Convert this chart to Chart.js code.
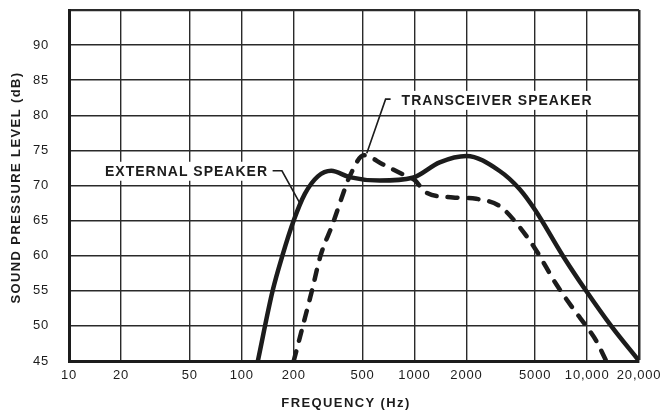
<!DOCTYPE html>
<html lang="en">
<head>
  <meta charset="UTF-8">
  <title>Speaker Frequency Response</title>
  <script src="https://cdn.jsdelivr.net/npm/chart.js"></script>
  <style>
    body {
      margin: 0;
      background-color: #ffffff;
    }
    canvas {
      display: block;
    }
  </style>
</head>
<body>

  <canvas id="responseChart" width="666" height="411"></canvas>

  <script>
    // tick positions and labels
    const xTicks = [10, 20, 50, 100, 200, 500, 1000, 2000, 5000, 10000, 20000];
    const xTickLabels = ['10', '20', '50', '100', '200', '500', '1000', '2000', '5000', '10,000', '20,000'];
    const yMin = 45;
    const yMax = 95;
    const yStep = 5;

    // external speaker (solid)
    const extFreq  = [124, 151, 172, 200, 232, 276, 330, 420, 630, 975, 1400, 2000, 3100, 4060, 5000, 7230, 9860, 13770, 20000];
    const extLevel = [45, 55, 60, 65, 68.8, 71.3, 72.1, 71.2, 70.7, 71.1, 73.3, 74.2, 72.1, 69.5, 66.5, 60, 55, 50, 45];

    // transceiver speaker (dashed)
    const trxFreq  = [200, 226, 255, 286, 336, 386, 420, 510, 658, 855, 1000, 1170, 1670, 2280, 3100, 3880, 5000, 6600, 8450, 10000, 11270, 12900];
    const trxLevel = [45, 50, 55, 60, 64.5, 68.8, 71.2, 74.3, 73, 71.6, 70.8, 69, 68.3, 68.1, 67.1, 64.7, 61, 56, 52.2, 49.8, 47.9, 45];

    // callouts: text anchor and leader line, in data units (Hz, dB)
    const callouts = [
      { text: 'EXTERNAL SPEAKER', align: 'right', at: [142, 72.1],
        leader: [[151, 72.1], [171, 72.1], [217, 67.5]] },
      { text: 'TRANSCEIVER SPEAKER', align: 'left', at: [843, 82.2],
        leader: [[728, 82.3], [681, 82.3], [530, 74.6]] }
    ];

    const ink = '#1c1c1c';
    const fontFamily = '"Liberation Sans", Arial, Helvetica, sans-serif';

    const toPoints = (fs, ls) => fs.map((f, i) => ({ x: f, y: ls[i] }));

    const calloutPlugin = {
      id: 'callouts',
      beforeDraw(chart) {
        chart.ctx.letterSpacing = '0.8px';
      },
      afterDatasetsDraw(chart) {
        const { ctx, chartArea } = chart;
        const x = chart.scales.x;
        const y = chart.scales.y;
        ctx.save();
        ctx.font = 'bold 14px ' + fontFamily;
        ctx.letterSpacing = '1px';
        ctx.textBaseline = 'middle';
        ctx.textAlign = 'left';
        callouts.forEach(c => {
          const px = x.getPixelForValue(c.at[0]);
          const py = y.getPixelForValue(c.at[1]);
          const w = ctx.measureText(c.text).width;
          const left = c.align === 'right' ? px - w : px;
          ctx.fillStyle = '#ffffff';
          ctx.fillRect(left - 3, py - 9, w + 6, 19);
          ctx.fillStyle = ink;
          ctx.fillText(c.text, left, py + 1);

          ctx.strokeStyle = ink;
          ctx.lineWidth = 1.6;
          ctx.beginPath();
          c.leader.forEach(([f, db], i) => {
            const lx = x.getPixelForValue(f);
            const ly = y.getPixelForValue(db);
            if (i === 0) ctx.moveTo(lx, ly); else ctx.lineTo(lx, ly);
          });
          ctx.stroke();
        });

        // axis titles
        ctx.font = 'bold 13px ' + fontFamily;
        ctx.letterSpacing = '1.4px';
        ctx.fillStyle = ink;
        ctx.textAlign = 'center';
        ctx.fillText('FREQUENCY (Hz)', (chartArea.left + chartArea.right) / 2 - 8, chart.height - 8);

        ctx.translate(16, (chartArea.top + chartArea.bottom) / 2 + 2);
        ctx.rotate(-Math.PI / 2);
        ctx.fillText('SOUND PRESSURE LEVEL (dB)', 0, 0);
        ctx.restore();
      }
    };

    const ctx = document.getElementById('responseChart').getContext('2d');

    new Chart(ctx, {
      type: 'line',
      data: {
        datasets: [
          {
            label: 'External Speaker',
            data: toPoints(extFreq, extLevel),
            borderColor: ink,
            borderWidth: 4.5,
            pointRadius: 0,
            fill: false,
            cubicInterpolationMode: 'monotone'
          },
          {
            label: 'Transceiver Speaker',
            data: toPoints(trxFreq, trxLevel),
            borderColor: ink,
            borderWidth: 4.5,
            borderDash: [10, 11],
            borderCapStyle: 'round',
            pointRadius: 0,
            fill: false,
            cubicInterpolationMode: 'monotone'
          }
        ]
      },
      options: {
        responsive: false,
        animation: false,
        events: [],
        layout: { padding: { left: 0, right: 24, top: 10, bottom: 0 } },
        plugins: {
          legend: { display: false },
          tooltip: { enabled: false }
        },
        scales: {
          x: {
            type: 'logarithmic',
            min: 10,
            max: 20000,
            afterBuildTicks: scale => {
              scale.ticks = xTicks.map(v => ({ value: v }));
            },
            afterFit: scale => {
              scale.height = 50;
            },
            grid: {
              color: '#2a2a2a',
              lineWidth: c => (c.index === xTicks.length - 1 ? 2.5 : 1.4),
              drawTicks: false
            },
            border: { color: ink, width: 3 },
            ticks: {
              autoSkip: false,
              maxRotation: 0,
              padding: 7,
              color: ink,
              font: { family: fontFamily, size: 13 },
              callback: (v, i) => xTickLabels[i]
            }
          },
          y: {
            min: yMin,
            max: yMax,
            afterFit: scale => {
              scale.width = 69;
              scale.paddingTop = 0;
              scale.paddingBottom = 0;
            },
            grid: {
              color: '#2a2a2a',
              lineWidth: c => (c.tick && c.tick.value === yMax ? 2.2 : 1.4),
              drawTicks: false
            },
            border: { color: ink, width: 3 },
            ticks: {
              stepSize: yStep,
              padding: 20,
              color: ink,
              font: { family: fontFamily, size: 13 },
              callback: v => (v === yMax ? '' : v)
            }
          }
        }
      },
      plugins: [calloutPlugin]
    });
  </script>

</body>
</html>
